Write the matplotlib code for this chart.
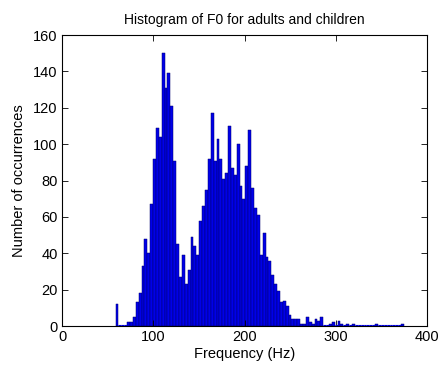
import numpy as np
import matplotlib
matplotlib.use("Agg")
import matplotlib.pyplot as plt

# histogram counts (100 bins, MATLAB hist style)
f0_min = 58.7
f0_max = 374.7
counts = [12, 0, 0, 0, 2, 2, 5, 13, 18, 33,
          48, 40, 67, 92, 109, 104, 150, 131, 139, 121,
          91, 45, 27, 39, 23, 31, 49, 44, 39, 58,
          66, 75, 92, 117, 91, 103, 92, 81, 84, 110,
          87, 83, 100, 77, 70, 88, 108, 76, 65, 61,
          39, 51, 38, 36, 28, 23, 19, 13, 14, 11,
          6, 4, 4, 4, 1, 1, 5, 2, 1, 4,
          3, 5, 0, 0, 1, 2, 0, 3, 1, 0,
          1, 0, 1, 0, 0, 0, 0, 0, 0, 0,
          1, 0, 0, 0, 0, 0, 0, 0, 0, 1]
x_ticks = [0, 100, 200, 300, 400]
y_ticks = [0, 20, 40, 60, 80, 100, 120, 140, 160]

plt.rcParams['font.family'] = ['Liberation Sans', 'DejaVu Sans']
plt.rcParams['font.size'] = 10.5

edges = np.linspace(f0_min, f0_max, len(counts) + 1)
width = edges[1] - edges[0]
centers = edges[:-1] + width / 2

fig = plt.figure(figsize=(4.42, 3.69), dpi=100)
ax = fig.add_axes([0.1403, 0.1165, 0.8258, 0.7886])
ax.bar(centers, counts, width=width, color="#0000e8", edgecolor="#000070",
       linewidth=0.35)
# zero bins show as a thin line on the baseline
zero_x = centers[np.array(counts) == 0]
ax.hlines([0.3] * len(zero_x), zero_x - width / 2, zero_x + width / 2,
          color="#0000e8", linewidth=0.8)

ax.set_xlim(0, 400)
ax.set_ylim(0, 160)
ax.set_xticks(x_ticks)
ax.set_yticks(y_ticks)
ax.tick_params(direction="in", top=True, right=True, length=4, width=0.6,
               labelsize=10.5, pad=3)
for s in ax.spines.values():
    s.set_linewidth(0.8)
ax.set_title("Histogram of F0 for adults and children", fontsize=10, pad=8)
ax.set_xlabel("Frequency (Hz)", labelpad=2)
ax.set_ylabel("Number of occurrences", labelpad=5)

fig.savefig("out.png", dpi=100)
